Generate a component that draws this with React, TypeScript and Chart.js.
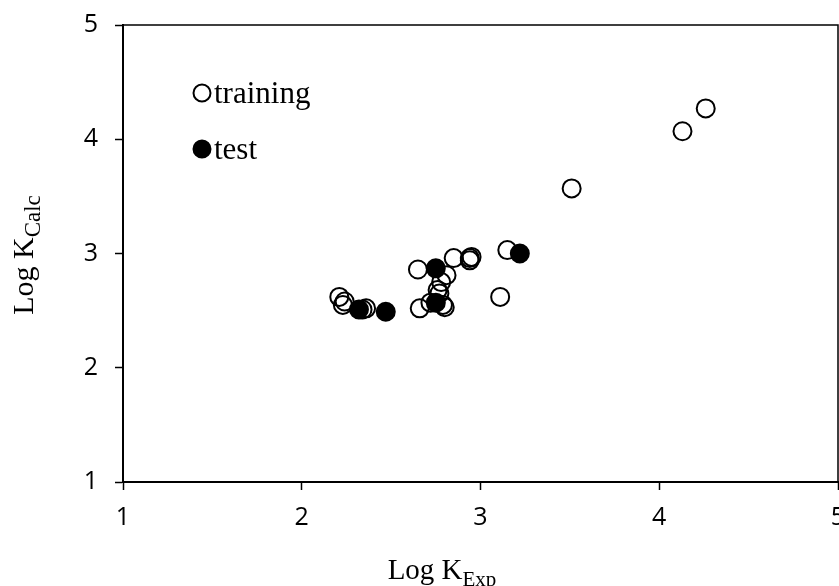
import { useEffect, useRef } from "react";
import { Chart, registerables } from "chart.js";

Chart.register(...registerables);

const seriesNames = ["training", "test"];
const xTickValues = [1, 2, 3, 4, 5];
const yTickValues = [1, 2, 3, 4, 5];

const trainingX = [2.21, 2.24, 2.23, 2.36, 2.34, 2.66, 2.72, 2.79, 2.8, 2.76, 2.77, 2.78, 2.81, 2.65, 2.85, 2.94, 2.95, 2.94, 3.15, 3.11, 3.51, 4.13, 4.26];
const trainingY = [2.62, 2.58, 2.55, 2.52, 2.51, 2.52, 2.57, 2.55, 2.53, 2.68, 2.65, 2.75, 2.81, 2.86, 2.96, 2.96, 2.97, 2.94, 3.03, 2.62, 3.57, 4.07, 4.27];

const testX = [2.32, 2.47, 2.75, 2.75, 3.22];
const testY = [2.51, 2.49, 2.87, 2.57, 3.0];

const xTitle = ["Log K", "Exp"];
const yTitle = ["Log K", "Calc"];

const SERIF = "'Liberation Serif', 'Times New Roman', serif";
const SANS = "'Open Sans', 'Noto Sans', sans-serif";

const decorPlugin = {
  id: "decor",
  afterDraw(chart: any) {
    const { ctx, chartArea } = chart;
    const { left, right, top, bottom } = chartArea;
    ctx.save();
    ctx.strokeStyle = "#000";
    ctx.lineWidth = 1.5;
    ctx.beginPath();
    ctx.moveTo(left, top);
    ctx.lineTo(right, top);
    ctx.lineTo(right, bottom);
    ctx.stroke();

    const items = [
      { name: seriesNames[0], filled: false, cy: 93, base: 103 },
      { name: seriesNames[1], filled: true, cy: 149, base: 159 },
    ];
    ctx.textAlign = "left";
    ctx.textBaseline = "alphabetic";
    ctx.font = `31px ${SERIF}`;
    for (const it of items) {
      ctx.beginPath();
      ctx.arc(202, it.cy, 8.5, 0, Math.PI * 2);
      ctx.lineWidth = 2;
      ctx.strokeStyle = "#000";
      if (it.filled) {
        ctx.fillStyle = "#000";
        ctx.fill();
      }
      ctx.stroke();
      ctx.fillStyle = "#000";
      ctx.fillText(it.name, 214, it.base);
    }

    ctx.fillStyle = "#000";
    ctx.font = `29px ${SERIF}`;
    const wMain = ctx.measureText(xTitle[0]).width;
    ctx.font = `21px ${SERIF}`;
    const wSub = ctx.measureText(xTitle[1]).width;
    const xStart = 442 - (wMain + wSub) / 2;
    ctx.font = `29px ${SERIF}`;
    ctx.fillText(xTitle[0], xStart, 579);
    ctx.font = `21px ${SERIF}`;
    ctx.fillText(xTitle[1], xStart + wMain, 586);

    ctx.save();
    ctx.translate(33, 255);
    ctx.rotate(-Math.PI / 2);
    ctx.font = `30px ${SERIF}`;
    const yMain = ctx.measureText(yTitle[0]).width;
    ctx.font = `23px ${SERIF}`;
    const ySub = ctx.measureText(yTitle[1]).width;
    const ys = -(yMain + ySub) / 2;
    ctx.font = `30px ${SERIF}`;
    ctx.fillText(yTitle[0], ys, 0);
    ctx.font = `23px ${SERIF}`;
    ctx.fillText(yTitle[1], ys + yMain, 7);
    ctx.restore();

    ctx.restore();
  },
};

export default function App() {
  const canvasRef = useRef<HTMLCanvasElement | null>(null);

  useEffect(() => {
    document.body.style.margin = "0";
    const canvas = canvasRef.current;
    if (!canvas) return;

    const training = trainingX.map((x, i) => ({ x, y: trainingY[i] }));
    const test = testX.map((x, i) => ({ x, y: testY[i] }));

    const axisCommon = {
      type: "linear" as const,
      min: 1,
      max: 5,
      grid: {
        drawOnChartArea: false,
        drawTicks: true,
        tickLength: 8,
        tickColor: "#000",
        tickWidth: 1.5,
      },
      border: { display: true, color: "#000", width: 2 },
    };

    const chart = new Chart(canvas, {
      type: "scatter",
      data: {
        datasets: [
          {
            label: seriesNames[0],
            data: training,
            pointRadius: 9,
            pointBorderWidth: 2,
            pointBorderColor: "#000",
            pointBackgroundColor: "rgba(0,0,0,0)",
          },
          {
            label: seriesNames[1],
            data: test,
            pointRadius: 9,
            pointBorderWidth: 2,
            pointBorderColor: "#000",
            pointBackgroundColor: "#000",
          },
        ],
      },
      options: {
        animation: false,
        responsive: false,
        maintainAspectRatio: false,
        layout: { autoPadding: false, padding: { top: 25, right: 1, left: 0, bottom: 0 } },
        plugins: {
          legend: { display: false },
          tooltip: { enabled: false },
        },
        scales: {
          x: {
            ...axisCommon,
            afterBuildTicks: (s: any) => {
              s.ticks = xTickValues.map((v) => ({ value: v }));
            },
            ticks: {
              font: { family: SANS, size: 25 },
              color: "#000",
              padding: 13,
              maxRotation: 0,
              autoSkip: false,
            },
            afterFit: (s: any) => {
              s.height = 104;
              s.paddingLeft = 0;
              s.paddingRight = 0;
            },
          },
          y: {
            ...axisCommon,
            afterBuildTicks: (s: any) => {
              s.ticks = yTickValues.map((v) => ({ value: v }));
            },
            ticks: {
              font: { family: SANS, size: 25 },
              color: "#000",
              padding: 17,
              autoSkip: false,
            },
            afterFit: (s: any) => {
              s.width = 123;
              s.paddingTop = 0;
              s.paddingBottom = 0;
            },
          },
        },
      },
      plugins: [decorPlugin],
    });

    return () => chart.destroy();
  }, []);

  return (
    <div style={{ width: 839, height: 586, background: "#fff" }}>
      <canvas ref={canvasRef} width={839} height={586} style={{ display: "block" }} />
    </div>
  );
}
